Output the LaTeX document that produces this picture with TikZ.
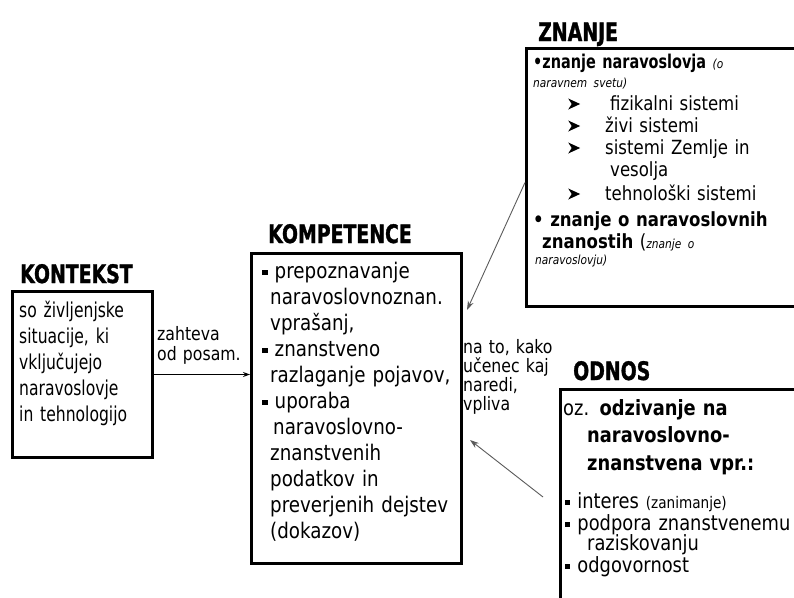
\documentclass[tikz,border=0pt]{standalone}
\usepackage{fontspec}
\setmainfont{DejaVu Sans}[FakeStretch=0.85]
\newfontfamily\narrowfont{DejaVu Sans}[FakeStretch=0.76]
\newfontfamily\headfont{DejaVu Sans}[FakeStretch=0.74, BoldFeatures={FakeBold=1.2}]
\usepackage{tikz}
\usetikzlibrary{arrows.meta,calc}
\definecolor{ngrey}{HTML}{5A5A5A}
\newcommand\fs[2]{\fontsize{#1}{#2}\selectfont}
\newcommand\sqbul{\raisebox{0.22ex}{\rule{0.25em}{0.25em}}}
\newcommand\arrhead{\tikz[x=1pt, y=1pt, baseline=0pt]
  \fill[black] (0,0.5) -- (12,6) -- (0,11.5) -- (3.5,6) -- cycle;}
\newcommand\zarr{\hspace*{35pt}\makebox[37pt][l]{\arrhead}}
\tikzset{
  box/.style={draw=black, line width=3pt, anchor=north west, inner sep=0pt},
  title/.style={font=\headfont\bfseries\fs{25.5}{28}, anchor=base west, inner sep=0pt},
  txt/.style={anchor=base west, inner sep=0pt, align=left, text width=#1},
  arr/.style={-{Stealth[length=7pt,width=5pt]}, draw=black, line width=1.3pt},
  garr/.style={-{Stealth[length=9pt,width=6pt]}, draw=ngrey, line width=0.9pt},
}

\begin{document}
\begin{tikzpicture}[x=1pt, y=-1pt]
  \clip (0,0) rectangle (794,597);

  % boxes
  \node[box, minimum width=140pt, minimum height=166pt] (kontekst) at (11,290) {};
  \node[box, minimum width=210pt, minimum height=310pt] (kompetence) at (250,252) {};
  \node[box, minimum width=290pt, minimum height=258pt] (znanje) at (525,47) {};
  \node[box, minimum width=260pt, minimum height=240pt] (odnos) at (559,388) {};

  \node[title] (t-kontekst) at (20,283) {KONTEKST};
  \node[title] (t-kompetence) at (268,243) {KOMPETENCE};
  \node[title] (t-znanje) at (538,41) {ZNANJE};
  \node[title] (t-odnos) at (573,380) {ODNOS};

  \node[txt=135pt, font=\narrowfont\fs{20.5}{26}] (x-kontekst) at (19,317) {so življenjske\\
    situacije, ki\\vključujejo\\naravoslovje\\in tehnologijo};

  \node[txt=200pt, font=\fs{21.5}{26}] (x-kompetence) at (262,278) {\sqbul\ prepoznavanje\\
    \hspace*{8pt}naravoslovnoznan.\\
    \hspace*{8pt}vprašanj,\\
    \sqbul\ znanstveno\\
    \hspace*{8pt}razlaganje pojavov,\\
    \sqbul\ uporaba\\
    \hspace*{11pt}naravoslovno-\\
    \hspace*{8pt}znanstvenih\\
    \hspace*{8pt}podatkov in\\
    \hspace*{8pt}preverjenih dejstev\\
    \hspace*{8pt}(dokazov)};

  \node[txt=280pt, font=\fs{19.5}{22}] (x-znanje) at (533,68) {{\narrowfont\bfseries\fs{19}{22}•znanje naravoslovja}
    {\itshape\fs{12.5}{22}(o}\\[-3pt]
    {\itshape\fs{12.5}{22}naravnem svetu)}\\[1pt]
    \zarr\hspace{5pt}fizikalni sistemi\\
    \zarr živi sistemi\\
    \zarr sistemi Zemlje in\\
    \hspace*{77pt}vesolja\\[2pt]
    \zarr tehnološki sistemi\\[4pt]
    \textbf{•\ znanje o naravoslovnih}\\
    \hspace*{9pt}\textbf{znanostih} ({\itshape\fs{12.5}{22}znanje o}\\[-6pt]
    \hspace*{2pt}{\itshape\fs{12.5}{22}naravoslovju)}};

  \node[txt=300pt, font=\fs{21}{22}] (x-odnos) at (563,415) {oz. \textbf{odzivanje na}\\[5pt]
    \hspace*{24pt}\textbf{naravoslovno-}\\[6pt]
    \hspace*{24pt}\textbf{znanstvena vpr.:}\\[16pt]
    \hspace*{2pt}\sqbul\ interes {\fs{16}{22}(zanimanje)}\\
    \hspace*{2pt}\sqbul\ podpora znanstvenemu\\[-2pt]
    \hspace*{24pt}raziskovanju\\
    \hspace*{2pt}\sqbul\ odgovornost};

  \node[txt=90pt, font=\fs{18.5}{20}] (l-zahteva) at (157,340) {zahteva\\od posam.};
  \node[txt=95pt, font=\fs{18.5}{19}] (l-vpliva) at (463,353) {na to, kako\\učenec kaj\\naredi,\\vpliva};

  \coordinate (kp-tip1) at (467,310);
  \coordinate (kp-tip2) at (470,440);
  \coordinate (od-tail) at (543,497);

  \draw[arr] (kontekst.east) -- (kontekst.east -| kompetence.west);
  \draw[garr] ([yshift=-5pt]znanje.west) -- (kp-tip1);
  \draw[garr] (od-tail) -- (kp-tip2);
\end{tikzpicture}
\end{document}
